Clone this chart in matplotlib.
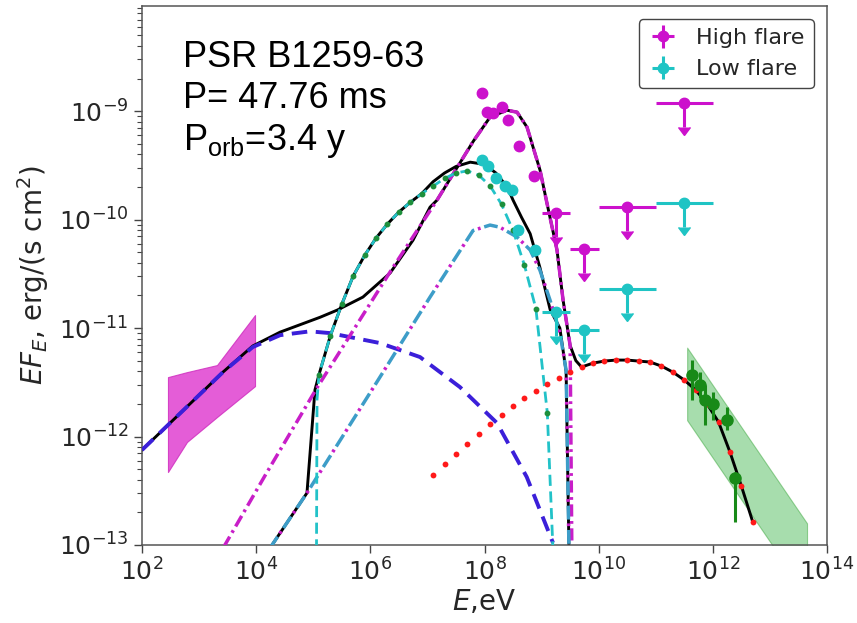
import numpy as np
import matplotlib
matplotlib.use("Agg")
import matplotlib.pyplot as plt
from matplotlib.ticker import NullLocator

# all energies and fluxes are log10 values (E in eV, EF_E in erg/(s cm^2))

# synchrotron component
sync_logE = [2.0, 2.49, 3.42, 3.94, 4.42, 4.94, 5.29, 6.17, 6.87, 7.57, 8.22, 8.74, 9.20]
sync_logF = [-12.124, -11.876, -11.405, -11.175, -11.065, -11.03, -11.046, -11.138,
             -11.267, -11.544, -11.876, -12.373, -12.98]

# IC component, high flare
ichi_logE = [3.43, 4.155, 5.066, 6.397, 7.168, 7.80, 8.097, 8.395, 8.57, 8.745, 8.85,
             8.973, 9.095, 9.27, 9.376, 9.50, 9.53]
ichi_logF = [-13.02, -12.36, -11.55, -10.44, -9.82, -9.28, -9.055, -8.991, -9.009, -9.147,
             -9.33, -9.544, -9.85, -10.28, -10.74, -11.16, -13.05]

# IC component, low flare
iclo_logE = [4.24, 4.89, 6.135, 7.046, 7.80, 8.097, 8.27, 8.57, 8.80, 8.97, 9.148, 9.323,
             9.43, 9.48]
iclo_logF = [-13.03, -12.52, -11.48, -10.714, -10.10, -10.05, -10.07, -10.16, -10.28,
             -10.465, -10.742, -11.046, -11.39, -13.05]

# second low flare component (cut off below 100 keV)
cut_logE = [5.057, 5.066, 5.1, 5.3, 5.5, 5.7, 5.9, 6.1, 6.3, 6.5, 6.7, 6.9, 7.1, 7.3, 7.5,
            7.7, 7.9, 8.1, 8.3, 8.5, 8.7, 8.9, 9.1, 9.2]
cut_logF = [-13.05, -11.66, -11.43, -11.07, -10.78, -10.52, -10.33, -10.17, -10.04, -9.93,
            -9.84, -9.76, -9.69, -9.62, -9.57, -9.55, -9.59, -9.69, -9.86, -10.10, -10.42,
            -10.82, -11.78, -13.05]

# TeV component
tev_logE = [7.1, 7.3, 7.5, 7.7, 7.9, 8.1, 8.3, 8.5, 8.7, 8.9, 9.1, 9.3, 9.5, 9.7, 9.9, 10.1,
            10.3, 10.5, 10.7, 10.9, 11.1, 11.3, 11.5, 11.7, 11.9, 12.1, 12.3, 12.5, 12.7]
tev_logF = [-12.355, -12.253, -12.161, -12.069, -11.977, -11.885, -11.802, -11.719, -11.645,
            -11.581, -11.516, -11.461, -11.406, -11.359, -11.323, -11.304, -11.295, -11.295,
            -11.304, -11.313, -11.35, -11.406, -11.479, -11.571, -11.7, -11.866, -12.143,
            -12.456, -12.788]

# model totals (below the TeV hump)
tothi_logE = [2.0, 2.49, 3.42, 3.94, 4.42, 5.12, 5.42, 5.87, 6.345, 6.748, 7.046, 7.168, 7.80,
              8.097, 8.395, 8.57, 8.745, 8.85, 8.973, 9.095, 9.27, 9.376, 9.50, 9.6]
tothi_logF = [-12.124, -11.876, -11.405, -11.165, -11.037, -10.90, -10.834, -10.714, -10.493,
              -10.189, -9.885, -9.82, -9.28, -9.055, -8.991, -9.009, -9.147, -9.33, -9.544,
              -9.85, -10.28, -10.74, -11.16, -11.30]
totlo_logE = [4.24, 4.89, 5.03, 5.1, 5.3, 5.5, 5.7, 5.9, 6.1, 6.3, 6.5, 6.7, 6.9, 7.1, 7.3, 7.5,
              7.75, 8.0, 8.2, 8.4, 8.5, 8.65, 8.8, 8.97, 9.15, 9.32, 9.43, 9.48]
totlo_logF = [-13.03, -12.52, -11.57, -11.43, -11.07, -10.78, -10.52, -10.33, -10.17, -10.04,
              -9.93, -9.84, -9.76, -9.65, -9.57, -9.51, -9.47, -9.49, -9.57, -9.70, -9.82,
              -9.98, -10.13, -10.44, -10.83, -11.0, -11.40, -13.05]

# X-ray bow tie
xray_logE = [2.455, 2.788, 3.314, 3.98]
xray_hi = [-11.452, -11.406, -11.341, -10.88]
xray_lo = [-12.327, -12.05, -11.82, -11.535]

# H.E.S.S. bow tie and points
hess_band_logE = [11.55, 13.65]
hess_band_hi = [-11.18, -12.80]
hess_band_lo = [-11.85, -13.47]
hess_logE = [11.64, 11.78, 11.86, 12.0, 12.25, 12.39]
hess_logF = [-11.433, -11.525, -11.664, -11.70, -11.848, -12.382]
hess_up = [-11.295, -11.406, -11.525, -11.59, -11.728, -12.327]
hess_lo = [-11.664, -11.645, -11.894, -11.848, -11.94, -12.788]

# Fermi-LAT fluxes and upper limits
hi_logE = [7.957, 8.044, 8.149, 8.307, 8.412, 8.605, 8.868]
hi_logF = [-8.834, -9.009, -9.018, -8.963, -9.083, -9.323, -9.599]
lo_logE = [7.957, 8.062, 8.202, 8.36, 8.482, 8.587, 8.885]
lo_logF = [-9.452, -9.507, -9.618, -9.691, -9.728, -10.094, -10.281]
ul_logE = [9.25, 9.75, 10.5, 11.5]
ul_half = [0.25, 0.25, 0.5, 0.5]
hi_ul_logF = [-9.94, -10.272, -9.885, -8.926]
lo_ul_logF = [-10.853, -11.018, -10.641, -9.848]
ul_arrow = 0.22  # arrow length, dex

xtick_exp = [2, 4, 6, 8, 10, 12, 14]
ytick_exp = [-13, -12, -11, -10, -9]


def p(a):
    return 10.0 ** np.asarray(a, dtype=float)


def flare(ax, logE, logF, ulF, color, label):
    n = len(logE)
    # points: zero-size bars so the legend keeps the cross handle
    ax.errorbar(p(logE), p(logF), xerr=np.zeros(n), yerr=np.zeros(n), fmt='o', color=color,
                ms=7.5, elinewidth=2.2, capsize=0, zorder=5, label=label)
    e = np.asarray(ul_logE)
    h = np.asarray(ul_half)
    f = np.asarray(ulF)
    xerr = [p(e) - p(e - h), p(e + h) - p(e)]
    yerr = [p(f) - p(f - ul_arrow), np.zeros(len(f))]
    ax.errorbar(p(e), p(f), xerr=xerr, yerr=yerr, uplims=True, fmt='o', color=color,
                ms=7.5, elinewidth=2.2, capsize=0, zorder=5)


plt.rcParams['lines.markersize'] = 8
plt.rcParams['font.size'] = 16

fig = plt.figure(figsize=(8.57, 6.23), dpi=100)
ax = fig.add_axes([142 / 857, 78 / 623, 685 / 857, 539 / 623])

ax.fill_between(p(xray_logE), p(xray_lo), p(xray_hi), facecolor='#e040d0', edgecolor='#d030c0',
                alpha=0.85, lw=0.8, zorder=1)
ax.fill_between(p(hess_band_logE), p(hess_band_lo), p(hess_band_hi), facecolor='#3cb44b',
                edgecolor='#2ca02c', alpha=0.45, lw=0.8, zorder=1)

# totals, drawn under the components
tev_E = np.asarray(tev_logE)
tail_E = tev_E[tev_E >= 9.7]
tail_F = np.asarray(tev_logF)[tev_E >= 9.7]
ax.plot(p(np.r_[tothi_logE, tail_E]), p(np.r_[tothi_logF, tail_F]), color='k', lw=2.1, zorder=2)
ax.plot(p(totlo_logE), p(totlo_logF), color='k', lw=2.1, zorder=2)

ax.plot(p(sync_logE), p(sync_logF), color='#3b1fd9', lw=2.8, ls=(0, (4, 2.2)), zorder=3)
ax.plot(p(ichi_logE), p(ichi_logF), color='#c81ec8', lw=2.5, ls=(0, (3.5, 1.3, 0.8, 1.3)), zorder=3)
ax.plot(p(iclo_logE), p(iclo_logF), color='#3d9dc8', lw=2.5, ls=(0, (4, 3)), zorder=3)
ax.plot(p(iclo_logE), p(iclo_logF), color='#c81ec8', lw=2.5, ls=(1.9, (0.8, 6.2)), zorder=3)
ax.plot(p(cut_logE), p(cut_logF), color='#22c2c8', lw=2.0, ls=(0, (4, 2)), zorder=3)
ax.plot(p(cut_logE), p(cut_logF), ls='none', marker='o', ms=3.2, color='#1e8f3c',
        markevery=slice(2, -1), zorder=3.5)
ax.plot(p(tev_logE), p(tev_logF), ls='none', marker='o', ms=4.2, color='#ff1a1a', mec='none',
        zorder=4)

flare(ax, hi_logE, hi_logF, hi_ul_logF, '#cc11cc', 'High flare')
flare(ax, lo_logE, lo_logF, lo_ul_logF, '#1fc4c4', 'Low flare')

hess_err = [p(hess_logF) - p(hess_lo), p(hess_up) - p(hess_logF)]
ax.errorbar(p(hess_logE), p(hess_logF), yerr=hess_err, fmt='o', color='#188a18', ms=8,
            elinewidth=2.2, capsize=0, zorder=5)

ax.set_xscale('log')
ax.set_yscale('log')
ax.set_xlim(1e2, 1e14)
ax.set_ylim(1e-13, 10 ** -8.03)
ax.set_xticks(p(xtick_exp))
ax.set_yticks(p(ytick_exp))
ax.xaxis.set_minor_locator(NullLocator())
ax.tick_params(which='both', direction='out', color='#444444', labelsize=18,
               labelcolor='#262626')
ax.tick_params(which='major', length=6, width=1)
ax.tick_params(which='minor', length=3.5, width=0.8)
for s in ax.spines.values():
    s.set_color('#555555')
    s.set_linewidth(1.1)

ax.set_xlabel('$E$,eV', fontsize=20, color='#262626', labelpad=2)
ax.set_ylabel('$EF_E$, erg/(s cm$^2$)', fontsize=20, color='#262626', labelpad=6)

leg = ax.legend(loc='upper right', fontsize=16, handlelength=1.4, framealpha=1,
                edgecolor='#444444', borderaxespad=0.6)
for t in leg.get_texts():
    t.set_color('#262626')

info = dict(transform=ax.transAxes, fontsize=26, family='Liberation Sans', va='baseline',
            color='black')
ax.text(0.06, 0.887, 'PSR B1259-63', **info)
ax.text(0.06, 0.811, 'P= 47.76 ms', **info)
ax.text(0.06, 0.733, r'P$_\mathregular{orb}$=3.4 y', **info)

fig.savefig('out.png', dpi=100)
